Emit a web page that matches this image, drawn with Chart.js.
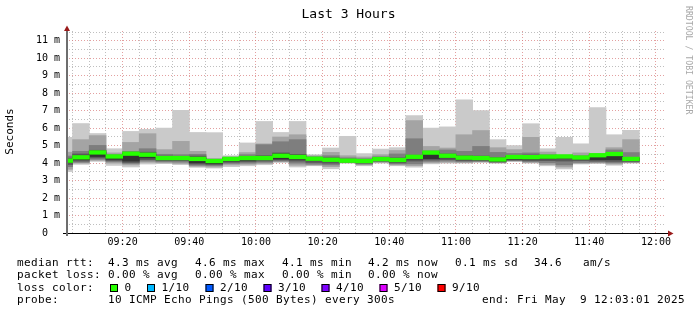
<!DOCTYPE html>
<html><head><meta charset="utf-8">
<script src="https://cdn.jsdelivr.net/npm/chart.js@4.4.1/dist/chart.umd.min.js"></script>
<style>html,body{margin:0;padding:0;background:#fff;}canvas{display:block;}</style>
</head><body>
<canvas id="c" width="697" height="315"></canvas>
<script>
// ---------------- data ----------------
const chartTitle = "Last 3 Hours";
const yAxisTitle = "Seconds";
const watermark = "RRDTOOL / TOBI OETIKER";
const rangeStart = "09:03:01";
const rangeEnd = "12:03:01";
const stepStarts = ["09:00","09:05","09:10","09:15","09:20","09:25","09:30","09:35","09:40","09:45",
  "09:50","09:55","10:00","10:05","10:10","10:15","10:20","10:25","10:30","10:35",
  "10:40","10:45","10:50","10:55","11:00","11:05","11:10","11:15","11:20","11:25",
  "11:30","11:35","11:40","11:45","11:50"];
// median rtt (ms) per 5-minute step
const medianRtt = [4.14,4.33,4.61,4.38,4.54,4.48,4.29,4.29,4.24,4.12,4.24,4.29,4.29,4.42,4.35,4.25,4.19,4.14,4.12,4.23,
  4.18,4.36,4.60,4.42,4.31,4.29,4.21,4.35,4.34,4.37,4.38,4.32,4.45,4.52,4.24];
// sorted ping rtts (ms), ping1 = fastest ... ping10 = slowest
const ping10 = [5.47,6.26,5.69,4.82,5.81,5.93,6.00,7.02,5.75,5.74,4.42,5.15,6.38,5.75,6.38,4.48,4.86,5.53,4.54,4.80,
  4.88,6.72,6.00,6.07,7.62,7.00,5.34,5.00,6.25,4.82,5.47,5.10,7.18,5.62,5.87];
const ping9 = [4.62,5.34,5.57,4.58,5.18,5.68,4.77,5.24,4.67,4.26,4.36,4.60,5.10,5.49,5.62,4.42,4.61,4.42,4.35,4.48,
  4.72,6.43,4.95,4.86,5.62,5.86,4.88,4.77,5.47,4.63,4.48,4.58,4.54,4.88,5.34];
const ping8 = [4.40,4.67,5.01,4.48,4.67,4.82,4.50,4.48,4.50,4.20,4.31,4.48,5.05,5.22,5.34,4.36,4.42,4.30,4.25,4.36,
  4.52,5.39,4.70,4.75,4.67,4.95,4.61,4.55,4.58,4.48,4.44,4.42,4.50,4.75,4.60];
const ping7 = [4.28,4.52,4.73,4.43,4.59,4.62,4.40,4.38,4.40,4.17,4.28,4.38,4.42,4.58,4.50,4.32,4.30,4.22,4.20,4.30,
  4.30,4.45,4.64,4.52,4.42,4.40,4.32,4.42,4.46,4.42,4.41,4.38,4.48,4.56,4.32];
const ping6 = [4.18,4.36,4.64,4.40,4.56,4.50,4.33,4.32,4.28,4.14,4.26,4.32,4.32,4.52,4.40,4.28,4.23,4.17,4.16,4.26,
  4.21,4.40,4.62,4.46,4.34,4.32,4.25,4.38,4.44,4.39,4.40,4.34,4.47,4.54,4.27];
const ping5 = [4.05,4.20,4.38,4.22,4.12,4.30,4.20,4.20,4.02,3.98,4.12,4.16,4.20,4.24,4.22,4.18,4.10,4.10,4.05,4.16,
  4.10,4.24,4.26,4.30,4.22,4.22,4.12,4.22,4.22,4.25,4.28,4.24,4.20,4.20,4.16];
const ping4 = [3.92,4.12,4.30,4.15,4.04,4.20,4.14,4.14,3.95,3.92,4.05,4.08,4.12,4.18,4.12,4.04,4.00,4.07,4.00,4.12,
  4.02,4.12,4.18,4.20,4.14,4.14,4.08,4.18,4.14,4.14,4.12,4.14,4.12,4.10,4.10];
const ping3 = [3.80,4.05,4.22,4.08,3.98,4.12,4.08,4.06,3.88,3.86,3.98,4.00,4.05,4.12,4.00,3.94,3.90,4.04,3.95,4.08,
  3.96,3.96,4.10,4.12,4.08,4.10,4.04,4.14,4.08,4.02,3.90,4.04,4.06,4.02,4.06];
const ping2 = [3.65,4.00,4.16,4.00,3.90,4.05,4.02,3.98,3.82,3.78,3.90,3.93,3.98,4.08,3.88,3.89,3.80,4.02,3.90,4.04,
  3.90,3.86,4.02,4.05,4.04,4.07,4.02,4.12,4.04,3.92,3.78,3.99,4.01,3.95,4.03];
const ping1 = [3.52,3.93,4.10,3.87,3.78,3.95,3.97,3.91,3.76,3.72,3.80,3.85,3.91,4.04,3.78,3.85,3.68,4.00,3.85,4.00,
  3.85,3.77,3.96,4.00,4.00,4.04,4.00,4.10,4.00,3.85,3.67,3.95,3.98,3.88,4.00];
const yMaxMs = 11.56;
const yTickLabels = ["0  ","1 m","2 m","3 m","4 m","5 m","6 m","7 m","8 m","9 m","10 m","11 m"];
const xTickLabels = ["09:20","09:40","10:00","10:20","10:40","11:00","11:20","11:40","12:00"];
const rttLegend = ["median rtt:","4.3 ms avg","4.6 ms max","4.1 ms min","4.2 ms now","0.1 ms sd","34.6","am/s"];
const lossLegend = ["packet loss:","0.00 % avg","0.00 % max","0.00 % min","0.00 % now"];
const lossColorTitle = "loss color:";
const lossColorLabels = ["0","1/10","2/10","3/10","4/10","5/10","9/10"];
const lossColors = ["#26ff00","#00b8ff","#0059ff","#5e00ff","#7e00ff","#dd00ff","#ff0000"];
const probeLegend = ["probe:","10 ICMP Echo Pings (500 Bytes) every 300s","end: Fri May  9 12:03:01 2025"];

// ---------------- helpers ----------------
function toMin(s){const p=s.split(':').map(Number);return p[0]*60+p[1]+(p[2]||0)/60-540;}
function fmtMin(v){const t=Math.round(v)+540;const h=Math.floor(t/60),m=t%60;return String(h).padStart(2,'0')+':'+String(m).padStart(2,'0');}
const centers = stepStarts.map(s=>toMin(s)+2.5);
const band = (lo,hi)=>centers.map((x,i)=>({x:x,y:[lo[i],hi[i]]}));
const smokeColors = ['#cacaca','#a4a4a4','#7e7e7e','#585858','#323232'];
const layers = [[ping1,ping10],[ping2,ping9],[ping3,ping8],[ping4,ping7],[ping5,ping6]];
const MEDIAN_HALF = 0.1;
const datasets = layers.map((l,k)=>({
  data: band(l[0],l[1]), backgroundColor: smokeColors[k], order: 10-k
}));
datasets.push({data: centers.map((x,i)=>({x:x,y:[medianRtt[i]-MEDIAN_HALF, medianRtt[i]+MEDIAN_HALF]})), backgroundColor: lossColors[0], order: 0});
datasets.forEach(d=>{Object.assign(d,{grouped:false,barPercentage:1,categoryPercentage:1,borderWidth:0,clip:0,inflateAmount:0.4});});

const FONT = "'DejaVu Sans Mono', monospace";
const gridMinor = 'rgba(170,170,170,0.75)';
const gridMajor = 'rgba(215,120,120,0.7)';

const decor = {
  id:'decor',
  afterDraw(chart){
    const ctx = chart.ctx, a = chart.chartArea;
    ctx.save();
    // axes
    ctx.strokeStyle = '#000'; ctx.lineWidth = 1;
    ctx.beginPath(); ctx.moveTo(a.left-3, a.bottom+0.5); ctx.lineTo(a.right+5, a.bottom+0.5); ctx.stroke();
    ctx.strokeStyle = '#6e6e6e'; ctx.lineWidth = 2;
    ctx.beginPath(); ctx.moveTo(a.left+1, a.bottom+3); ctx.lineTo(a.left+1, a.top-2); ctx.stroke();
    ctx.fillStyle = '#9a1b1b';
    ctx.beginPath(); ctx.moveTo(a.right+2, a.bottom-2.5); ctx.lineTo(a.right+7.5, a.bottom+0.5); ctx.lineTo(a.right+2, a.bottom+3.5); ctx.closePath(); ctx.fill();
    ctx.beginPath(); ctx.moveTo(a.left-2, a.top); ctx.lineTo(a.left+1, a.top-5.5); ctx.lineTo(a.left+4, a.top); ctx.closePath(); ctx.fill();
    // title
    ctx.fillStyle = '#000';
    ctx.font = "13px "+FONT; ctx.textAlign='center'; ctx.textBaseline='alphabetic';
    ctx.fillText(chartTitle, 348.5, 18);
    // y title
    ctx.save(); ctx.translate(10.5, 131.5); ctx.rotate(-Math.PI/2);
    ctx.font = "11px "+FONT; ctx.textAlign='center'; ctx.textBaseline='middle';
    ctx.fillText(yAxisTitle, 0, 0); ctx.restore();
    // watermark
    ctx.save(); ctx.translate(688, 6); ctx.rotate(Math.PI/2);
    ctx.font = "8.2px "+FONT; ctx.fillStyle='#a8a8a8'; ctx.textAlign='left'; ctx.textBaseline='middle';
    ctx.fillText(watermark, 0, 0); ctx.restore();
    // legend
    ctx.font = "11px "+FONT; ctx.fillStyle='#000'; ctx.textAlign='left'; ctx.textBaseline='middle';
    if ('letterSpacing' in ctx) ctx.letterSpacing = '0.38px';
    const rows = [263, 275.5, 288, 300.5];
    const col = [17,108,195,282,368,455,534,583];
    rttLegend.forEach((t,i)=>ctx.fillText(t, col[i], rows[0]));
    lossLegend.forEach((t,i)=>ctx.fillText(t, col[i], rows[1]));
    ctx.fillText(lossColorTitle, 17, rows[2]);
    const sw = [110,147,205.5,263.5,321.5,379.5,437.5];
    lossColorLabels.forEach((t,i)=>{
      ctx.fillStyle = lossColors[i]; ctx.fillRect(sw[i], rows[2]-4, 8, 8);
      ctx.strokeStyle = '#000'; ctx.lineWidth = 1; ctx.strokeRect(sw[i]+0.5, rows[2]-3.5, 7, 7);
      ctx.fillStyle = '#000'; ctx.fillText(t, sw[i]+14.5, rows[2]);
    });
    ctx.fillText(probeLegend[0], 17, rows[3]);
    ctx.fillText(probeLegend[1], 108, rows[3]);
    ctx.fillText(probeLegend[2], 482, rows[3]);
    ctx.restore();
  }
};

new Chart(document.getElementById('c'), {
  type: 'bar',
  data: { datasets },
  options: {
    responsive:false, animation:false, devicePixelRatio:1,
    layout:{padding:{top:31,right:31,left:0,bottom:0}},
    plugins:{legend:{display:false}, tooltip:{enabled:false}, title:{display:false}},
    scales:{
      x:{
        type:'linear', min:toMin(rangeStart), max:toMin(rangeEnd), offset:false,
        afterBuildTicks:(s)=>{const t=[];for(let v=5;v<=180;v+=5)t.push({value:v});s.ticks=t;},
        afterFit:(s)=>{s.height=82;},
        grid:{offset:false, drawTicks:false, tickLength:0,
          color:(c)=> (c.tick && Math.round(c.tick.value)%20===0) ? gridMajor : gridMinor},
        border:{display:false, dash:[1,2]},
        ticks:{autoSkip:false, maxRotation:0, padding:3, color:'#000', font:{family:FONT,size:10},
          callback:(v)=>{const s=fmtMin(v);return (Math.round(v)%20===0 && xTickLabels.includes(s))?s:'';}}
      },
      y:{
        min:0, max:yMaxMs,
        afterBuildTicks:(s)=>{const t=[];for(let v=0;v<=11.5;v+=0.5)t.push({value:v});s.ticks=t;},
        afterFit:(s)=>{s.width=66;},
        grid:{drawTicks:false, tickLength:0,
          color:(c)=> (c.tick && Math.abs(c.tick.value-Math.round(c.tick.value))<1e-6) ? gridMajor : gridMinor},
        border:{display:false, dash:[1,2]},
        ticks:{autoSkip:false, padding:6, color:'#000', font:{family:FONT,size:10},
          callback:(v)=>{const r=Math.round(v);return Math.abs(v-r)<1e-6 && yTickLabels[r]!==undefined ? yTickLabels[r] : '';}}
      }
    }
  },
  plugins:[decor]
});
</script>
</body></html>
